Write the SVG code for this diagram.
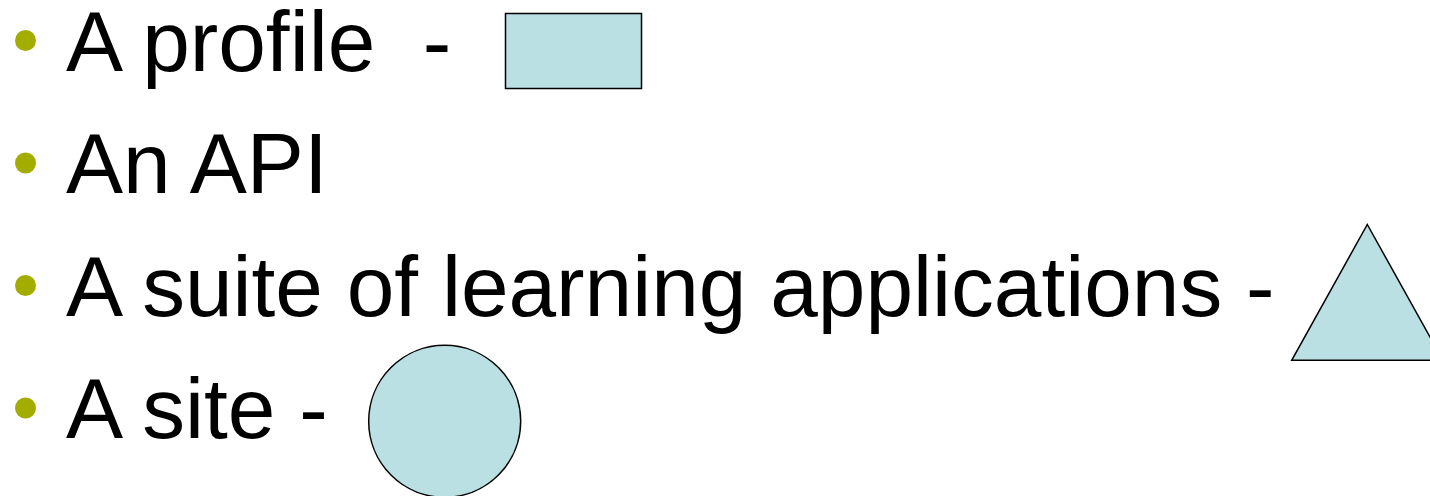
<svg xmlns="http://www.w3.org/2000/svg" width="1430" height="496" viewBox="0 0 1430 496">
<style>
.txt{font-family:"Liberation Sans",Arial,sans-serif;font-size:85.6px;fill:#000;white-space:pre}
.bul{fill:#A3AD00}
.shape{fill:#BBE0E3;stroke:#000;stroke-width:1.5}
</style>
<rect width="1430" height="496" fill="#fff"/>
<g id="item-profile">
<circle class="bul" cx="25.5" cy="40.5" r="10.5"/>
<text class="txt" x="66" y="71" xml:space="preserve">A profile  -</text>
<rect class="shape" x="505.5" y="13.5" width="136" height="75"/>
</g>
<g id="item-api">
<circle class="bul" cx="25.5" cy="163" r="10.5"/>
<text class="txt" x="66" y="193.3">An API</text>
</g>
<g id="item-suite">
<circle class="bul" cx="25.5" cy="285.5" r="10.5"/>
<text class="txt" x="66" y="315.6">A suite of learning applications -</text>
<polygon class="shape" points="1367.3,224.5 1443,360.3 1291.7,360.3"/>
</g>
<g id="item-site">
<circle class="bul" cx="25.5" cy="408" r="10.5"/>
<text class="txt" x="66" y="438">A site -</text>
<circle class="shape" cx="444.7" cy="421.3" r="76"/>
</g>
<g id="connectors"/>
</svg>
